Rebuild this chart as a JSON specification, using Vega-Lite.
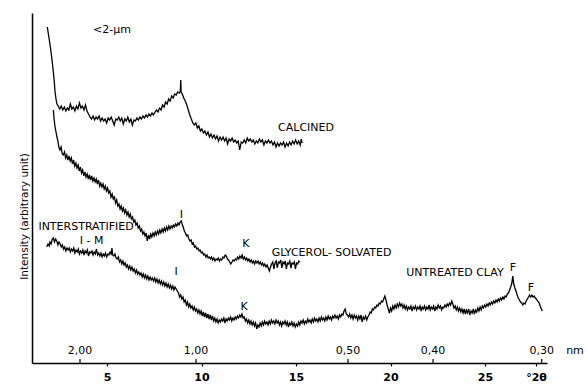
{
  "$schema": "https://vega.github.io/schema/vega-lite/v6.json",
  "width": 515,
  "height": 350,
  "autosize": "none",
  "padding": {"left": 32, "top": 13, "right": 40, "bottom": 25},
  "background": "white",
  "config": {
    "view": {"stroke": null},
    "font": "DejaVu Sans",
    "text": {"fill": "black", "font": "DejaVu Sans"},
    "axis": {"domainColor": "black", "domainWidth": 1.5, "tickColor": "black", "labelColor": "black", "titleColor": "black", "labelFont": "DejaVu Sans", "titleFont": "DejaVu Sans", "grid": false}
  },
  "datasets": {
    "curves": [
      {"s":"calcined","x":1.84,"y":336},{"s":"calcined","x":1.93,"y":325},{"s":"calcined","x":2.01,"y":315},{"s":"calcined","x":2.09,"y":303},{"s":"calcined","x":2.16,"y":291},{"s":"calcined","x":2.21,"y":281},{"s":"calcined","x":2.25,"y":271},{"s":"calcined","x":2.30,"y":264},{"s":"calcined","x":2.35,"y":259},{"s":"calcined","x":2.42,"y":257},
      {"s":"calcined","x":2.50,"y":254},{"s":"calcined","x":2.58,"y":257},{"s":"calcined","x":2.66,"y":253},{"s":"calcined","x":2.74,"y":256},{"s":"calcined","x":2.82,"y":252},{"s":"calcined","x":2.90,"y":255},{"s":"calcined","x":2.98,"y":253},{"s":"calcined","x":3.06,"y":259},{"s":"calcined","x":3.14,"y":254},{"s":"calcined","x":3.22,"y":256},
      {"s":"calcined","x":3.30,"y":252},{"s":"calcined","x":3.38,"y":257},{"s":"calcined","x":3.46,"y":254},{"s":"calcined","x":3.54,"y":260},{"s":"calcined","x":3.62,"y":255},{"s":"calcined","x":3.70,"y":257},{"s":"calcined","x":3.78,"y":253},{"s":"calcined","x":3.86,"y":258},{"s":"calcined","x":3.94,"y":252},{"s":"calcined","x":4.02,"y":249},
      {"s":"calcined","x":4.10,"y":246},{"s":"calcined","x":4.18,"y":244},{"s":"calcined","x":4.26,"y":247},{"s":"calcined","x":4.34,"y":243},{"s":"calcined","x":4.42,"y":246},{"s":"calcined","x":4.50,"y":244},{"s":"calcined","x":4.58,"y":247},{"s":"calcined","x":4.66,"y":242},{"s":"calcined","x":4.74,"y":245},{"s":"calcined","x":4.82,"y":242},
      {"s":"calcined","x":4.90,"y":244},{"s":"calcined","x":4.98,"y":240},{"s":"calcined","x":5.06,"y":245},{"s":"calcined","x":5.14,"y":243},{"s":"calcined","x":5.22,"y":246},{"s":"calcined","x":5.30,"y":242},{"s":"calcined","x":5.38,"y":238},{"s":"calcined","x":5.46,"y":244},{"s":"calcined","x":5.54,"y":243},{"s":"calcined","x":5.62,"y":246},
      {"s":"calcined","x":5.70,"y":242},{"s":"calcined","x":5.78,"y":245},{"s":"calcined","x":5.86,"y":239},{"s":"calcined","x":5.94,"y":244},{"s":"calcined","x":6.02,"y":242},{"s":"calcined","x":6.10,"y":246},{"s":"calcined","x":6.18,"y":241},{"s":"calcined","x":6.26,"y":244},{"s":"calcined","x":6.34,"y":238},{"s":"calcined","x":6.42,"y":243},
      {"s":"calcined","x":6.50,"y":242},{"s":"calcined","x":6.58,"y":245},{"s":"calcined","x":6.66,"y":243},{"s":"calcined","x":6.74,"y":246},{"s":"calcined","x":6.82,"y":244},{"s":"calcined","x":6.90,"y":247},{"s":"calcined","x":6.98,"y":245},{"s":"calcined","x":7.06,"y":248},{"s":"calcined","x":7.14,"y":246},{"s":"calcined","x":7.22,"y":249},
      {"s":"calcined","x":7.30,"y":247},{"s":"calcined","x":7.38,"y":250},{"s":"calcined","x":7.46,"y":248},{"s":"calcined","x":7.54,"y":251},{"s":"calcined","x":7.62,"y":253},{"s":"calcined","x":7.70,"y":251},{"s":"calcined","x":7.78,"y":255},{"s":"calcined","x":7.86,"y":253},{"s":"calcined","x":7.94,"y":258},{"s":"calcined","x":8.02,"y":256},
      {"s":"calcined","x":8.10,"y":261},{"s":"calcined","x":8.18,"y":259},{"s":"calcined","x":8.26,"y":264},{"s":"calcined","x":8.34,"y":262},{"s":"calcined","x":8.42,"y":267},{"s":"calcined","x":8.50,"y":265},{"s":"calcined","x":8.58,"y":269},{"s":"calcined","x":8.66,"y":268},{"s":"calcined","x":8.74,"y":271},{"s":"calcined","x":8.82,"y":270},
      {"s":"calcined","x":8.88,"y":272},{"s":"calcined","x":8.90,"y":283},{"s":"calcined","x":8.92,"y":271},{"s":"calcined","x":8.98,"y":269},{"s":"calcined","x":9.06,"y":265},{"s":"calcined","x":9.14,"y":262},{"s":"calcined","x":9.22,"y":258},{"s":"calcined","x":9.30,"y":253},{"s":"calcined","x":9.38,"y":248},{"s":"calcined","x":9.46,"y":244},
      {"s":"calcined","x":9.54,"y":240},{"s":"calcined","x":9.62,"y":238},{"s":"calcined","x":9.70,"y":240},{"s":"calcined","x":9.78,"y":235},{"s":"calcined","x":9.86,"y":237},{"s":"calcined","x":9.94,"y":232},{"s":"calcined","x":10.02,"y":234},{"s":"calcined","x":10.10,"y":230},{"s":"calcined","x":10.18,"y":232},{"s":"calcined","x":10.26,"y":228},
      {"s":"calcined","x":10.34,"y":231},{"s":"calcined","x":10.42,"y":226},{"s":"calcined","x":10.50,"y":229},{"s":"calcined","x":10.58,"y":225},{"s":"calcined","x":10.66,"y":228},{"s":"calcined","x":10.74,"y":224},{"s":"calcined","x":10.82,"y":227},{"s":"calcined","x":10.90,"y":222},{"s":"calcined","x":10.98,"y":226},{"s":"calcined","x":11.06,"y":223},
      {"s":"calcined","x":11.14,"y":226},{"s":"calcined","x":11.22,"y":222},{"s":"calcined","x":11.30,"y":225},{"s":"calcined","x":11.38,"y":219},{"s":"calcined","x":11.46,"y":224},{"s":"calcined","x":11.54,"y":222},{"s":"calcined","x":11.62,"y":225},{"s":"calcined","x":11.70,"y":221},{"s":"calcined","x":11.78,"y":223},{"s":"calcined","x":11.86,"y":220},
      {"s":"calcined","x":11.94,"y":222},{"s":"calcined","x":12.02,"y":213},{"s":"calcined","x":12.10,"y":221},{"s":"calcined","x":12.18,"y":220},{"s":"calcined","x":12.26,"y":223},{"s":"calcined","x":12.34,"y":220},{"s":"calcined","x":12.42,"y":225},{"s":"calcined","x":12.50,"y":222},{"s":"calcined","x":12.58,"y":224},{"s":"calcined","x":12.66,"y":221},
      {"s":"calcined","x":12.74,"y":223},{"s":"calcined","x":12.82,"y":219},{"s":"calcined","x":12.90,"y":222},{"s":"calcined","x":12.98,"y":220},{"s":"calcined","x":13.06,"y":224},{"s":"calcined","x":13.14,"y":221},{"s":"calcined","x":13.22,"y":223},{"s":"calcined","x":13.30,"y":218},{"s":"calcined","x":13.38,"y":222},{"s":"calcined","x":13.46,"y":220},
      {"s":"calcined","x":13.54,"y":223},{"s":"calcined","x":13.62,"y":220},{"s":"calcined","x":13.70,"y":222},{"s":"calcined","x":13.78,"y":218},{"s":"calcined","x":13.86,"y":221},{"s":"calcined","x":13.94,"y":216},{"s":"calcined","x":14.02,"y":220},{"s":"calcined","x":14.10,"y":217},{"s":"calcined","x":14.18,"y":220},{"s":"calcined","x":14.26,"y":218},
      {"s":"calcined","x":14.34,"y":221},{"s":"calcined","x":14.42,"y":216},{"s":"calcined","x":14.50,"y":220},{"s":"calcined","x":14.58,"y":217},{"s":"calcined","x":14.66,"y":221},{"s":"calcined","x":14.74,"y":218},{"s":"calcined","x":14.82,"y":222},{"s":"calcined","x":14.90,"y":219},{"s":"calcined","x":14.98,"y":223},{"s":"calcined","x":15.06,"y":219},
      {"s":"calcined","x":15.14,"y":222},{"s":"calcined","x":15.22,"y":218},{"s":"calcined","x":15.28,"y":224},{"s":"calcined","x":15.32,"y":220},

      {"s":"glycerol","x":2.16,"y":253},{"s":"glycerol","x":2.20,"y":244},{"s":"glycerol","x":2.25,"y":236},{"s":"glycerol","x":2.30,"y":231},{"s":"glycerol","x":2.35,"y":226},{"s":"glycerol","x":2.39,"y":223},{"s":"glycerol","x":2.45,"y":216},{"s":"glycerol","x":2.51,"y":213},{"s":"glycerol","x":2.57,"y":216},{"s":"glycerol","x":2.63,"y":209},
      {"s":"glycerol","x":2.69,"y":208},{"s":"glycerol","x":2.75,"y":211},{"s":"glycerol","x":2.81,"y":205},{"s":"glycerol","x":2.87,"y":208},{"s":"glycerol","x":2.93,"y":203},{"s":"glycerol","x":2.99,"y":207},{"s":"glycerol","x":3.05,"y":202},{"s":"glycerol","x":3.11,"y":205},{"s":"glycerol","x":3.17,"y":199},{"s":"glycerol","x":3.23,"y":203},
      {"s":"glycerol","x":3.29,"y":197},{"s":"glycerol","x":3.35,"y":200},{"s":"glycerol","x":3.41,"y":195},{"s":"glycerol","x":3.47,"y":198},{"s":"glycerol","x":3.53,"y":192},{"s":"glycerol","x":3.59,"y":196},{"s":"glycerol","x":3.65,"y":190},{"s":"glycerol","x":3.71,"y":193},{"s":"glycerol","x":3.77,"y":187},{"s":"glycerol","x":3.83,"y":191},
      {"s":"glycerol","x":3.89,"y":186},{"s":"glycerol","x":3.95,"y":189},{"s":"glycerol","x":4.01,"y":184},{"s":"glycerol","x":4.07,"y":188},{"s":"glycerol","x":4.13,"y":183},{"s":"glycerol","x":4.19,"y":187},{"s":"glycerol","x":4.25,"y":182},{"s":"glycerol","x":4.31,"y":185},{"s":"glycerol","x":4.37,"y":181},{"s":"glycerol","x":4.43,"y":184},
      {"s":"glycerol","x":4.49,"y":179},{"s":"glycerol","x":4.55,"y":183},{"s":"glycerol","x":4.61,"y":177},{"s":"glycerol","x":4.67,"y":180},{"s":"glycerol","x":4.73,"y":176},{"s":"glycerol","x":4.79,"y":179},{"s":"glycerol","x":4.85,"y":174},{"s":"glycerol","x":4.91,"y":177},{"s":"glycerol","x":4.97,"y":172},{"s":"glycerol","x":5.03,"y":175},
      {"s":"glycerol","x":5.09,"y":170},{"s":"glycerol","x":5.15,"y":172},{"s":"glycerol","x":5.21,"y":166},{"s":"glycerol","x":5.27,"y":169},{"s":"glycerol","x":5.33,"y":164},{"s":"glycerol","x":5.39,"y":166},{"s":"glycerol","x":5.45,"y":160},{"s":"glycerol","x":5.51,"y":163},{"s":"glycerol","x":5.57,"y":157},{"s":"glycerol","x":5.63,"y":159},
      {"s":"glycerol","x":5.69,"y":154},{"s":"glycerol","x":5.75,"y":157},{"s":"glycerol","x":5.81,"y":152},{"s":"glycerol","x":5.87,"y":155},{"s":"glycerol","x":5.93,"y":150},{"s":"glycerol","x":5.99,"y":153},{"s":"glycerol","x":6.05,"y":148},{"s":"glycerol","x":6.11,"y":151},{"s":"glycerol","x":6.17,"y":146},{"s":"glycerol","x":6.23,"y":149},
      {"s":"glycerol","x":6.29,"y":144},{"s":"glycerol","x":6.35,"y":146},{"s":"glycerol","x":6.41,"y":141},{"s":"glycerol","x":6.47,"y":143},{"s":"glycerol","x":6.53,"y":138},{"s":"glycerol","x":6.59,"y":140},{"s":"glycerol","x":6.65,"y":135},{"s":"glycerol","x":6.71,"y":137},{"s":"glycerol","x":6.77,"y":132},{"s":"glycerol","x":6.83,"y":134},
      {"s":"glycerol","x":6.89,"y":129},{"s":"glycerol","x":6.95,"y":131},{"s":"glycerol","x":7.01,"y":127},{"s":"glycerol","x":7.07,"y":130},{"s":"glycerol","x":7.13,"y":122},{"s":"glycerol","x":7.19,"y":128},{"s":"glycerol","x":7.25,"y":124},{"s":"glycerol","x":7.31,"y":129},{"s":"glycerol","x":7.37,"y":126},{"s":"glycerol","x":7.43,"y":130},
      {"s":"glycerol","x":7.49,"y":127},{"s":"glycerol","x":7.55,"y":131},{"s":"glycerol","x":7.61,"y":128},{"s":"glycerol","x":7.67,"y":132},{"s":"glycerol","x":7.73,"y":129},{"s":"glycerol","x":7.79,"y":133},{"s":"glycerol","x":7.85,"y":130},{"s":"glycerol","x":7.91,"y":134},{"s":"glycerol","x":7.97,"y":131},{"s":"glycerol","x":8.03,"y":135},
      {"s":"glycerol","x":8.09,"y":132},{"s":"glycerol","x":8.15,"y":136},{"s":"glycerol","x":8.21,"y":133},{"s":"glycerol","x":8.27,"y":137},{"s":"glycerol","x":8.33,"y":134},{"s":"glycerol","x":8.39,"y":137},{"s":"glycerol","x":8.45,"y":135},{"s":"glycerol","x":8.51,"y":138},{"s":"glycerol","x":8.57,"y":136},{"s":"glycerol","x":8.63,"y":139},
      {"s":"glycerol","x":8.69,"y":137},{"s":"glycerol","x":8.75,"y":140},{"s":"glycerol","x":8.81,"y":138},{"s":"glycerol","x":8.87,"y":141},{"s":"glycerol","x":8.93,"y":142},{"s":"glycerol","x":8.97,"y":139},{"s":"glycerol","x":9.03,"y":136},{"s":"glycerol","x":9.09,"y":132},{"s":"glycerol","x":9.15,"y":130},{"s":"glycerol","x":9.21,"y":127},
      {"s":"glycerol","x":9.27,"y":128},{"s":"glycerol","x":9.33,"y":124},{"s":"glycerol","x":9.39,"y":122},{"s":"glycerol","x":9.45,"y":123},{"s":"glycerol","x":9.51,"y":119},{"s":"glycerol","x":9.57,"y":120},{"s":"glycerol","x":9.63,"y":116},{"s":"glycerol","x":9.69,"y":117},{"s":"glycerol","x":9.75,"y":114},{"s":"glycerol","x":9.81,"y":115},
      {"s":"glycerol","x":9.87,"y":112},{"s":"glycerol","x":9.93,"y":113},{"s":"glycerol","x":9.99,"y":110},{"s":"glycerol","x":10.05,"y":111},{"s":"glycerol","x":10.11,"y":108},{"s":"glycerol","x":10.17,"y":109},{"s":"glycerol","x":10.23,"y":106},{"s":"glycerol","x":10.29,"y":108},{"s":"glycerol","x":10.35,"y":105},{"s":"glycerol","x":10.41,"y":106},
      {"s":"glycerol","x":10.47,"y":104},{"s":"glycerol","x":10.53,"y":106},{"s":"glycerol","x":10.59,"y":103},{"s":"glycerol","x":10.65,"y":105},{"s":"glycerol","x":10.71,"y":102},{"s":"glycerol","x":10.77,"y":104},{"s":"glycerol","x":10.83,"y":103},{"s":"glycerol","x":10.89,"y":105},{"s":"glycerol","x":10.95,"y":102},{"s":"glycerol","x":11.01,"y":104},
      {"s":"glycerol","x":11.07,"y":103},{"s":"glycerol","x":11.13,"y":106},{"s":"glycerol","x":11.19,"y":105},{"s":"glycerol","x":11.25,"y":108},{"s":"glycerol","x":11.31,"y":107},{"s":"glycerol","x":11.37,"y":104},{"s":"glycerol","x":11.43,"y":103},{"s":"glycerol","x":11.49,"y":101},{"s":"glycerol","x":11.55,"y":99},{"s":"glycerol","x":11.61,"y":101},
      {"s":"glycerol","x":11.67,"y":103},{"s":"glycerol","x":11.73,"y":102},{"s":"glycerol","x":11.79,"y":104},{"s":"glycerol","x":11.85,"y":103},{"s":"glycerol","x":11.91,"y":106},{"s":"glycerol","x":11.97,"y":104},{"s":"glycerol","x":12.03,"y":107},{"s":"glycerol","x":12.09,"y":105},{"s":"glycerol","x":12.15,"y":108},{"s":"glycerol","x":12.21,"y":104},
      {"s":"glycerol","x":12.27,"y":106},{"s":"glycerol","x":12.33,"y":103},{"s":"glycerol","x":12.39,"y":105},{"s":"glycerol","x":12.45,"y":102},{"s":"glycerol","x":12.51,"y":104},{"s":"glycerol","x":12.57,"y":101},{"s":"glycerol","x":12.63,"y":103},{"s":"glycerol","x":12.69,"y":100},{"s":"glycerol","x":12.75,"y":102},{"s":"glycerol","x":12.81,"y":99},
      {"s":"glycerol","x":12.87,"y":102},{"s":"glycerol","x":12.93,"y":100},{"s":"glycerol","x":12.99,"y":102},{"s":"glycerol","x":13.05,"y":99},{"s":"glycerol","x":13.11,"y":101},{"s":"glycerol","x":13.17,"y":98},{"s":"glycerol","x":13.23,"y":100},{"s":"glycerol","x":13.29,"y":97},{"s":"glycerol","x":13.35,"y":99},{"s":"glycerol","x":13.41,"y":96},
      {"s":"glycerol","x":13.47,"y":98},{"s":"glycerol","x":13.53,"y":95},{"s":"glycerol","x":13.59,"y":92},{"s":"glycerol","x":13.65,"y":96},{"s":"glycerol","x":13.71,"y":99},{"s":"glycerol","x":13.77,"y":101},{"s":"glycerol","x":13.83,"y":94},{"s":"glycerol","x":13.89,"y":100},{"s":"glycerol","x":13.95,"y":102},{"s":"glycerol","x":14.01,"y":95},
      {"s":"glycerol","x":14.07,"y":101},{"s":"glycerol","x":14.13,"y":100},{"s":"glycerol","x":14.19,"y":103},{"s":"glycerol","x":14.25,"y":95},{"s":"glycerol","x":14.31,"y":101},{"s":"glycerol","x":14.37,"y":99},{"s":"glycerol","x":14.43,"y":102},{"s":"glycerol","x":14.49,"y":94},{"s":"glycerol","x":14.55,"y":100},{"s":"glycerol","x":14.61,"y":99},
      {"s":"glycerol","x":14.67,"y":102},{"s":"glycerol","x":14.73,"y":95},{"s":"glycerol","x":14.79,"y":100},{"s":"glycerol","x":14.85,"y":99},{"s":"glycerol","x":14.91,"y":101},{"s":"glycerol","x":14.97,"y":94},{"s":"glycerol","x":15.03,"y":100},{"s":"glycerol","x":15.09,"y":99},{"s":"glycerol","x":15.15,"y":102},{"s":"glycerol","x":15.21,"y":101},

      {"s":"untreated","x":1.81,"y":116},{"s":"untreated","x":1.88,"y":119},{"s":"untreated","x":1.94,"y":117},{"s":"untreated","x":1.98,"y":121},{"s":"untreated","x":2.04,"y":119},{"s":"untreated","x":2.10,"y":124},{"s":"untreated","x":2.16,"y":125},{"s":"untreated","x":2.22,"y":121},{"s":"untreated","x":2.28,"y":124},{"s":"untreated","x":2.34,"y":122},
      {"s":"untreated","x":2.40,"y":118},{"s":"untreated","x":2.46,"y":121},{"s":"untreated","x":2.52,"y":119},{"s":"untreated","x":2.58,"y":116},{"s":"untreated","x":2.64,"y":118},{"s":"untreated","x":2.70,"y":114},{"s":"untreated","x":2.76,"y":116},{"s":"untreated","x":2.82,"y":112},{"s":"untreated","x":2.88,"y":115},{"s":"untreated","x":2.94,"y":113},
      {"s":"untreated","x":3.00,"y":115},{"s":"untreated","x":3.06,"y":111},{"s":"untreated","x":3.12,"y":114},{"s":"untreated","x":3.18,"y":112},{"s":"untreated","x":3.24,"y":115},{"s":"untreated","x":3.30,"y":110},{"s":"untreated","x":3.36,"y":113},{"s":"untreated","x":3.42,"y":111},{"s":"untreated","x":3.48,"y":114},{"s":"untreated","x":3.54,"y":109},
      {"s":"untreated","x":3.60,"y":112},{"s":"untreated","x":3.66,"y":110},{"s":"untreated","x":3.72,"y":113},{"s":"untreated","x":3.78,"y":108},{"s":"untreated","x":3.84,"y":112},{"s":"untreated","x":3.90,"y":110},{"s":"untreated","x":3.96,"y":113},{"s":"untreated","x":4.02,"y":107},{"s":"untreated","x":4.08,"y":111},{"s":"untreated","x":4.14,"y":110},
      {"s":"untreated","x":4.20,"y":112},{"s":"untreated","x":4.26,"y":108},{"s":"untreated","x":4.32,"y":111},{"s":"untreated","x":4.38,"y":109},{"s":"untreated","x":4.44,"y":114},{"s":"untreated","x":4.50,"y":108},{"s":"untreated","x":4.56,"y":110},{"s":"untreated","x":4.62,"y":107},{"s":"untreated","x":4.68,"y":110},{"s":"untreated","x":4.74,"y":106},
      {"s":"untreated","x":4.80,"y":109},{"s":"untreated","x":4.86,"y":107},{"s":"untreated","x":4.92,"y":110},{"s":"untreated","x":4.98,"y":106},{"s":"untreated","x":5.04,"y":109},{"s":"untreated","x":5.10,"y":108},{"s":"untreated","x":5.16,"y":111},{"s":"untreated","x":5.22,"y":109},{"s":"untreated","x":5.26,"y":115},{"s":"untreated","x":5.30,"y":108},
      {"s":"untreated","x":5.36,"y":107},{"s":"untreated","x":5.42,"y":109},{"s":"untreated","x":5.48,"y":105},{"s":"untreated","x":5.54,"y":104},{"s":"untreated","x":5.60,"y":106},{"s":"untreated","x":5.66,"y":101},{"s":"untreated","x":5.72,"y":103},{"s":"untreated","x":5.78,"y":99},{"s":"untreated","x":5.84,"y":102},{"s":"untreated","x":5.90,"y":98},
      {"s":"untreated","x":5.96,"y":100},{"s":"untreated","x":6.02,"y":96},{"s":"untreated","x":6.08,"y":98},{"s":"untreated","x":6.14,"y":94},{"s":"untreated","x":6.20,"y":97},{"s":"untreated","x":6.26,"y":93},{"s":"untreated","x":6.32,"y":96},{"s":"untreated","x":6.38,"y":92},{"s":"untreated","x":6.44,"y":94},{"s":"untreated","x":6.50,"y":90},
      {"s":"untreated","x":6.56,"y":93},{"s":"untreated","x":6.62,"y":89},{"s":"untreated","x":6.68,"y":91},{"s":"untreated","x":6.74,"y":88},{"s":"untreated","x":6.80,"y":90},{"s":"untreated","x":6.86,"y":86},{"s":"untreated","x":6.92,"y":89},{"s":"untreated","x":6.98,"y":85},{"s":"untreated","x":7.04,"y":88},{"s":"untreated","x":7.10,"y":84},
      {"s":"untreated","x":7.16,"y":87},{"s":"untreated","x":7.22,"y":83},{"s":"untreated","x":7.28,"y":86},{"s":"untreated","x":7.34,"y":83},{"s":"untreated","x":7.40,"y":85},{"s":"untreated","x":7.46,"y":82},{"s":"untreated","x":7.52,"y":85},{"s":"untreated","x":7.58,"y":81},{"s":"untreated","x":7.64,"y":84},{"s":"untreated","x":7.70,"y":80},
      {"s":"untreated","x":7.76,"y":83},{"s":"untreated","x":7.82,"y":79},{"s":"untreated","x":7.88,"y":82},{"s":"untreated","x":7.94,"y":78},{"s":"untreated","x":8.00,"y":81},{"s":"untreated","x":8.06,"y":77},{"s":"untreated","x":8.12,"y":80},{"s":"untreated","x":8.18,"y":76},{"s":"untreated","x":8.24,"y":79},{"s":"untreated","x":8.30,"y":75},
      {"s":"untreated","x":8.36,"y":78},{"s":"untreated","x":8.42,"y":74},{"s":"untreated","x":8.48,"y":77},{"s":"untreated","x":8.54,"y":73},{"s":"untreated","x":8.60,"y":76},{"s":"untreated","x":8.66,"y":74},{"s":"untreated","x":8.72,"y":72},{"s":"untreated","x":8.78,"y":70},{"s":"untreated","x":8.84,"y":66},{"s":"untreated","x":8.90,"y":68},
      {"s":"untreated","x":8.96,"y":64},{"s":"untreated","x":9.02,"y":66},{"s":"untreated","x":9.08,"y":61},{"s":"untreated","x":9.14,"y":63},{"s":"untreated","x":9.20,"y":58},{"s":"untreated","x":9.26,"y":61},{"s":"untreated","x":9.32,"y":56},{"s":"untreated","x":9.38,"y":59},{"s":"untreated","x":9.44,"y":55},{"s":"untreated","x":9.50,"y":57},
      {"s":"untreated","x":9.56,"y":53},{"s":"untreated","x":9.62,"y":56},{"s":"untreated","x":9.68,"y":52},{"s":"untreated","x":9.74,"y":54},{"s":"untreated","x":9.80,"y":50},{"s":"untreated","x":9.86,"y":53},{"s":"untreated","x":9.92,"y":49},{"s":"untreated","x":9.98,"y":52},{"s":"untreated","x":10.04,"y":47},{"s":"untreated","x":10.10,"y":51},
      {"s":"untreated","x":10.16,"y":46},{"s":"untreated","x":10.22,"y":50},{"s":"untreated","x":10.28,"y":45},{"s":"untreated","x":10.34,"y":49},{"s":"untreated","x":10.40,"y":44},{"s":"untreated","x":10.46,"y":48},{"s":"untreated","x":10.52,"y":43},{"s":"untreated","x":10.58,"y":47},{"s":"untreated","x":10.64,"y":42},{"s":"untreated","x":10.70,"y":45},
      {"s":"untreated","x":10.76,"y":41},{"s":"untreated","x":10.82,"y":44},{"s":"untreated","x":10.88,"y":40},{"s":"untreated","x":10.94,"y":43},{"s":"untreated","x":11.00,"y":41},{"s":"untreated","x":11.06,"y":44},{"s":"untreated","x":11.12,"y":42},{"s":"untreated","x":11.18,"y":45},{"s":"untreated","x":11.24,"y":40},{"s":"untreated","x":11.30,"y":44},
      {"s":"untreated","x":11.36,"y":42},{"s":"untreated","x":11.42,"y":45},{"s":"untreated","x":11.48,"y":43},{"s":"untreated","x":11.54,"y":46},{"s":"untreated","x":11.60,"y":42},{"s":"untreated","x":11.66,"y":45},{"s":"untreated","x":11.72,"y":43},{"s":"untreated","x":11.78,"y":46},{"s":"untreated","x":11.84,"y":44},{"s":"untreated","x":11.90,"y":47},
      {"s":"untreated","x":11.96,"y":45},{"s":"untreated","x":12.02,"y":48},{"s":"untreated","x":12.08,"y":46},{"s":"untreated","x":12.14,"y":49},{"s":"untreated","x":12.20,"y":45},{"s":"untreated","x":12.26,"y":46},{"s":"untreated","x":12.32,"y":42},{"s":"untreated","x":12.38,"y":44},{"s":"untreated","x":12.44,"y":40},{"s":"untreated","x":12.50,"y":43},
      {"s":"untreated","x":12.56,"y":39},{"s":"untreated","x":12.62,"y":42},{"s":"untreated","x":12.68,"y":38},{"s":"untreated","x":12.74,"y":41},{"s":"untreated","x":12.80,"y":37},{"s":"untreated","x":12.86,"y":40},{"s":"untreated","x":12.92,"y":34},{"s":"untreated","x":12.98,"y":38},{"s":"untreated","x":13.04,"y":36},{"s":"untreated","x":13.10,"y":40},
      {"s":"untreated","x":13.16,"y":37},{"s":"untreated","x":13.22,"y":41},{"s":"untreated","x":13.28,"y":38},{"s":"untreated","x":13.34,"y":42},{"s":"untreated","x":13.40,"y":39},{"s":"untreated","x":13.46,"y":41},{"s":"untreated","x":13.52,"y":38},{"s":"untreated","x":13.58,"y":42},{"s":"untreated","x":13.64,"y":39},{"s":"untreated","x":13.70,"y":43},
      {"s":"untreated","x":13.76,"y":40},{"s":"untreated","x":13.82,"y":42},{"s":"untreated","x":13.88,"y":39},{"s":"untreated","x":13.94,"y":43},{"s":"untreated","x":14.00,"y":40},{"s":"untreated","x":14.06,"y":42},{"s":"untreated","x":14.12,"y":38},{"s":"untreated","x":14.18,"y":41},{"s":"untreated","x":14.24,"y":37},{"s":"untreated","x":14.30,"y":41},
      {"s":"untreated","x":14.36,"y":39},{"s":"untreated","x":14.42,"y":42},{"s":"untreated","x":14.48,"y":38},{"s":"untreated","x":14.54,"y":41},{"s":"untreated","x":14.60,"y":36},{"s":"untreated","x":14.66,"y":40},{"s":"untreated","x":14.72,"y":38},{"s":"untreated","x":14.78,"y":41},{"s":"untreated","x":14.84,"y":37},{"s":"untreated","x":14.90,"y":40},
      {"s":"untreated","x":14.96,"y":36},{"s":"untreated","x":15.02,"y":39},{"s":"untreated","x":15.08,"y":37},{"s":"untreated","x":15.14,"y":41},{"s":"untreated","x":15.20,"y":38},{"s":"untreated","x":15.26,"y":42},{"s":"untreated","x":15.32,"y":40},{"s":"untreated","x":15.38,"y":43},{"s":"untreated","x":15.44,"y":39},{"s":"untreated","x":15.50,"y":42},
      {"s":"untreated","x":15.56,"y":40},{"s":"untreated","x":15.62,"y":44},{"s":"untreated","x":15.68,"y":41},{"s":"untreated","x":15.74,"y":43},{"s":"untreated","x":15.80,"y":40},{"s":"untreated","x":15.86,"y":44},{"s":"untreated","x":15.92,"y":41},{"s":"untreated","x":15.98,"y":45},{"s":"untreated","x":16.04,"y":42},{"s":"untreated","x":16.10,"y":44},
      {"s":"untreated","x":16.16,"y":41},{"s":"untreated","x":16.22,"y":45},{"s":"untreated","x":16.28,"y":42},{"s":"untreated","x":16.34,"y":46},{"s":"untreated","x":16.40,"y":43},{"s":"untreated","x":16.46,"y":45},{"s":"untreated","x":16.52,"y":42},{"s":"untreated","x":16.58,"y":46},{"s":"untreated","x":16.64,"y":43},{"s":"untreated","x":16.70,"y":47},
      {"s":"untreated","x":16.76,"y":44},{"s":"untreated","x":16.82,"y":46},{"s":"untreated","x":16.88,"y":43},{"s":"untreated","x":16.94,"y":47},{"s":"untreated","x":17.00,"y":45},{"s":"untreated","x":17.06,"y":48},{"s":"untreated","x":17.12,"y":45},{"s":"untreated","x":17.18,"y":47},{"s":"untreated","x":17.24,"y":44},{"s":"untreated","x":17.30,"y":48},
      {"s":"untreated","x":17.36,"y":46},{"s":"untreated","x":17.42,"y":49},{"s":"untreated","x":17.48,"y":48},{"s":"untreated","x":17.54,"y":52},{"s":"untreated","x":17.60,"y":54},{"s":"untreated","x":17.66,"y":49},{"s":"untreated","x":17.72,"y":48},{"s":"untreated","x":17.78,"y":46},{"s":"untreated","x":17.84,"y":49},{"s":"untreated","x":17.90,"y":45},
      {"s":"untreated","x":17.96,"y":48},{"s":"untreated","x":18.02,"y":44},{"s":"untreated","x":18.08,"y":48},{"s":"untreated","x":18.14,"y":45},{"s":"untreated","x":18.20,"y":47},{"s":"untreated","x":18.26,"y":43},{"s":"untreated","x":18.32,"y":47},{"s":"untreated","x":18.38,"y":44},{"s":"untreated","x":18.44,"y":48},{"s":"untreated","x":18.50,"y":41},
      {"s":"untreated","x":18.56,"y":46},{"s":"untreated","x":18.62,"y":44},{"s":"untreated","x":18.68,"y":47},{"s":"untreated","x":18.74,"y":43},{"s":"untreated","x":18.80,"y":46},{"s":"untreated","x":18.86,"y":48},{"s":"untreated","x":18.92,"y":51},{"s":"untreated","x":18.98,"y":50},{"s":"untreated","x":19.04,"y":54},{"s":"untreated","x":19.10,"y":53},
      {"s":"untreated","x":19.16,"y":56},{"s":"untreated","x":19.22,"y":55},{"s":"untreated","x":19.28,"y":58},{"s":"untreated","x":19.34,"y":57},{"s":"untreated","x":19.40,"y":60},{"s":"untreated","x":19.46,"y":59},{"s":"untreated","x":19.52,"y":62},{"s":"untreated","x":19.58,"y":61},{"s":"untreated","x":19.64,"y":64},{"s":"untreated","x":19.70,"y":67},
      {"s":"untreated","x":19.76,"y":63},{"s":"untreated","x":19.82,"y":58},{"s":"untreated","x":19.88,"y":54},{"s":"untreated","x":19.94,"y":50},{"s":"untreated","x":20.00,"y":55},{"s":"untreated","x":20.06,"y":52},{"s":"untreated","x":20.12,"y":57},{"s":"untreated","x":20.18,"y":54},{"s":"untreated","x":20.24,"y":58},{"s":"untreated","x":20.30,"y":55},
      {"s":"untreated","x":20.36,"y":59},{"s":"untreated","x":20.42,"y":56},{"s":"untreated","x":20.48,"y":60},{"s":"untreated","x":20.54,"y":57},{"s":"untreated","x":20.60,"y":59},{"s":"untreated","x":20.66,"y":55},{"s":"untreated","x":20.72,"y":58},{"s":"untreated","x":20.78,"y":54},{"s":"untreated","x":20.84,"y":57},{"s":"untreated","x":20.90,"y":53},
      {"s":"untreated","x":20.96,"y":56},{"s":"untreated","x":21.02,"y":54},{"s":"untreated","x":21.08,"y":57},{"s":"untreated","x":21.14,"y":52},{"s":"untreated","x":21.20,"y":56},{"s":"untreated","x":21.26,"y":54},{"s":"untreated","x":21.32,"y":57},{"s":"untreated","x":21.38,"y":53},{"s":"untreated","x":21.44,"y":56},{"s":"untreated","x":21.50,"y":54},
      {"s":"untreated","x":21.56,"y":57},{"s":"untreated","x":21.62,"y":52},{"s":"untreated","x":21.68,"y":56},{"s":"untreated","x":21.74,"y":54},{"s":"untreated","x":21.80,"y":57},{"s":"untreated","x":21.86,"y":53},{"s":"untreated","x":21.92,"y":56},{"s":"untreated","x":21.98,"y":54},{"s":"untreated","x":22.04,"y":58},{"s":"untreated","x":22.10,"y":53},
      {"s":"untreated","x":22.16,"y":56},{"s":"untreated","x":22.22,"y":54},{"s":"untreated","x":22.28,"y":57},{"s":"untreated","x":22.34,"y":52},{"s":"untreated","x":22.40,"y":56},{"s":"untreated","x":22.46,"y":54},{"s":"untreated","x":22.52,"y":58},{"s":"untreated","x":22.58,"y":55},{"s":"untreated","x":22.64,"y":57},{"s":"untreated","x":22.70,"y":53},
      {"s":"untreated","x":22.76,"y":56},{"s":"untreated","x":22.82,"y":55},{"s":"untreated","x":22.88,"y":58},{"s":"untreated","x":22.94,"y":56},{"s":"untreated","x":23.00,"y":59},{"s":"untreated","x":23.06,"y":57},{"s":"untreated","x":23.12,"y":60},{"s":"untreated","x":23.18,"y":58},{"s":"untreated","x":23.24,"y":62},{"s":"untreated","x":23.30,"y":59},
      {"s":"untreated","x":23.36,"y":55},{"s":"untreated","x":23.42,"y":57},{"s":"untreated","x":23.48,"y":53},{"s":"untreated","x":23.54,"y":56},{"s":"untreated","x":23.60,"y":52},{"s":"untreated","x":23.66,"y":55},{"s":"untreated","x":23.72,"y":51},{"s":"untreated","x":23.78,"y":54},{"s":"untreated","x":23.84,"y":50},{"s":"untreated","x":23.90,"y":54},
      {"s":"untreated","x":23.96,"y":49},{"s":"untreated","x":24.02,"y":53},{"s":"untreated","x":24.08,"y":50},{"s":"untreated","x":24.14,"y":54},{"s":"untreated","x":24.20,"y":48},{"s":"untreated","x":24.26,"y":52},{"s":"untreated","x":24.32,"y":50},{"s":"untreated","x":24.38,"y":54},{"s":"untreated","x":24.44,"y":49},{"s":"untreated","x":24.50,"y":53},
      {"s":"untreated","x":24.56,"y":51},{"s":"untreated","x":24.62,"y":55},{"s":"untreated","x":24.68,"y":52},{"s":"untreated","x":24.74,"y":56},{"s":"untreated","x":24.80,"y":53},{"s":"untreated","x":24.86,"y":57},{"s":"untreated","x":24.92,"y":55},{"s":"untreated","x":24.98,"y":58},{"s":"untreated","x":25.04,"y":56},{"s":"untreated","x":25.10,"y":59},
      {"s":"untreated","x":25.16,"y":57},{"s":"untreated","x":25.22,"y":60},{"s":"untreated","x":25.28,"y":58},{"s":"untreated","x":25.34,"y":61},{"s":"untreated","x":25.40,"y":59},{"s":"untreated","x":25.46,"y":62},{"s":"untreated","x":25.52,"y":60},{"s":"untreated","x":25.58,"y":63},{"s":"untreated","x":25.64,"y":61},{"s":"untreated","x":25.70,"y":64},
      {"s":"untreated","x":25.76,"y":62},{"s":"untreated","x":25.82,"y":65},{"s":"untreated","x":25.88,"y":63},{"s":"untreated","x":25.94,"y":66},{"s":"untreated","x":26.00,"y":64},{"s":"untreated","x":26.06,"y":67},{"s":"untreated","x":26.12,"y":66},{"s":"untreated","x":26.18,"y":69},{"s":"untreated","x":26.24,"y":70},{"s":"untreated","x":26.30,"y":73},
      {"s":"untreated","x":26.36,"y":76},{"s":"untreated","x":26.42,"y":80},{"s":"untreated","x":26.47,"y":87},{"s":"untreated","x":26.52,"y":79},{"s":"untreated","x":26.58,"y":75},{"s":"untreated","x":26.64,"y":72},{"s":"untreated","x":26.70,"y":68},{"s":"untreated","x":26.76,"y":65},{"s":"untreated","x":26.82,"y":63},{"s":"untreated","x":26.88,"y":61},
      {"s":"untreated","x":26.94,"y":60},{"s":"untreated","x":27.00,"y":58},{"s":"untreated","x":27.06,"y":60},{"s":"untreated","x":27.12,"y":59},{"s":"untreated","x":27.18,"y":62},{"s":"untreated","x":27.24,"y":64},{"s":"untreated","x":27.30,"y":66},{"s":"untreated","x":27.36,"y":68},{"s":"untreated","x":27.42,"y":66},{"s":"untreated","x":27.48,"y":68},
      {"s":"untreated","x":27.54,"y":66},{"s":"untreated","x":27.60,"y":67},{"s":"untreated","x":27.66,"y":65},{"s":"untreated","x":27.72,"y":64},{"s":"untreated","x":27.78,"y":62},{"s":"untreated","x":27.84,"y":61},{"s":"untreated","x":27.90,"y":58},{"s":"untreated","x":27.96,"y":55},{"s":"untreated","x":28.03,"y":52}
    ],
    "labels": [
      {"x":5.26,"y":333,"t":"<2-µm"},
      {"x":15.53,"y":235,"t":"CALCINED"},
      {"x":16.88,"y":110,"t":"GLYCEROL- SOLVATED"},
      {"x":12.34,"y":119,"t":"K"},
      {"x":8.94,"y":148,"t":"I"},
      {"x":3.89,"y":136,"t":"INTERSTRATIFIED"},
      {"x":4.18,"y":122,"t":"I - M"},
      {"x":8.65,"y":91,"t":"I"},
      {"x":12.25,"y":56,"t":"K"},
      {"x":23.41,"y":90,"t":"UNTREATED CLAY"},
      {"x":26.47,"y":95,"t":"F"},
      {"x":27.43,"y":75,"t":"F"}
    ],
    "nm": [
      {"x":3.57,"t":"2,00"},
      {"x":9.71,"t":"1,00"},
      {"x":17.75,"t":"0,50"},
      {"x":22.25,"t":"0,40"},
      {"x":28.0,"t":"0,30"},
      {"x":29.76,"t":"nm"}
    ]
  },
  "layer": [
    {
      "data": {"name": "curves"},
      "mark": {"type": "line", "color": "black", "strokeWidth": 1.3, "clip": false},
      "encoding": {
        "x": {"field": "x", "type": "quantitative",
          "scale": {"domain": [1.03, 28.28], "nice": false, "zero": false},
          "axis": {"title": null, "values": [5, 10, 15, 20, 25, 27.7], "labelExpr": "datum.value > 27 ? '°2θ' : datum.label", "tickSize": 3, "tickWidth": 1.2, "labelPadding": 5, "labelFontSize": 11, "labelFontWeight": "bold", "labelFlush": false}},
        "y": {"field": "y", "type": "quantitative",
          "scale": {"domain": [0, 350], "nice": false, "zero": false},
          "axis": {"title": "Intensity (arbitrary unit)", "ticks": false, "labels": false, "titleFontSize": 10.5, "titleFontWeight": "normal", "titlePadding": 3, "titleY": 203}},
        "detail": {"field": "s", "type": "nominal"}
      }
    },
    {
      "data": {"name": "labels"},
      "mark": {"type": "text", "color": "black", "fill": "black", "fontSize": 11, "baseline": "middle", "align": "center"},
      "encoding": {
        "x": {"field": "x", "type": "quantitative"},
        "y": {"field": "y", "type": "quantitative"},
        "text": {"field": "t"}
      }
    },
    {
      "data": {"name": "nm"},
      "transform": [{"filter": "datum.t != 'nm'"}],
      "mark": {"type": "rule", "color": "black", "strokeWidth": 1.2},
      "encoding": {
        "x": {"field": "x", "type": "quantitative"},
        "y": {"datum": 0},
        "y2": {"datum": 4}
      }
    },
    {
      "data": {"name": "nm"},
      "mark": {"type": "text", "color": "black", "fill": "black", "fontSize": 11, "baseline": "middle", "align": "center", "clip": false},
      "encoding": {
        "x": {"field": "x", "type": "quantitative"},
        "y": {"datum": 12},
        "text": {"field": "t"}
      }
    }
  ]
}
